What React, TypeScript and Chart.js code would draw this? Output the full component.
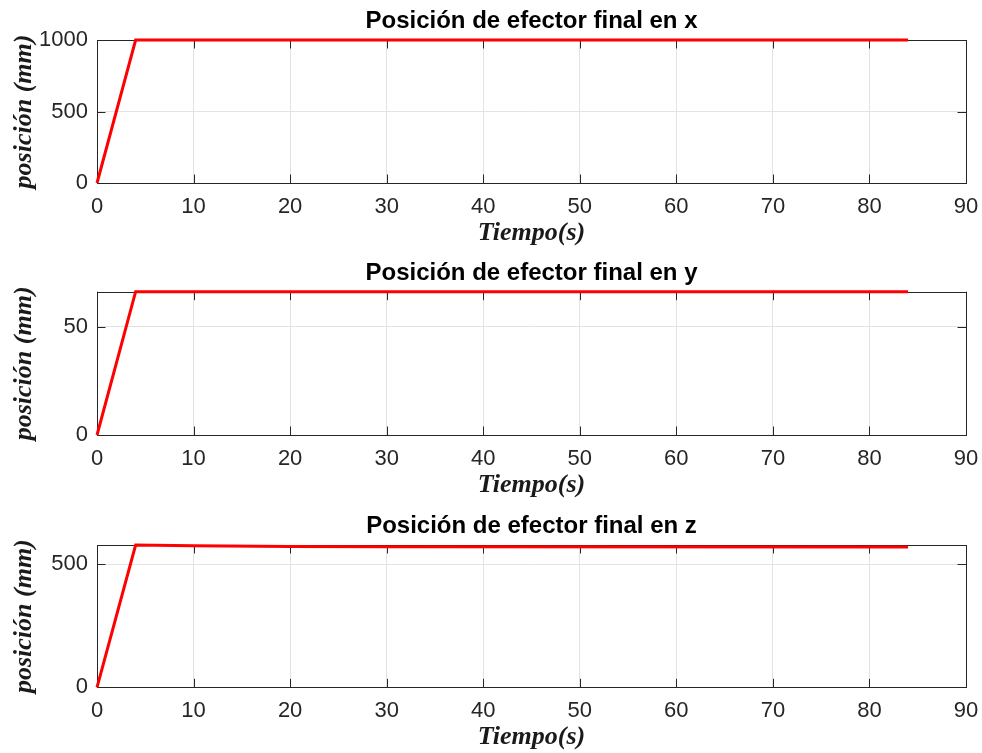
import React, { useEffect, useRef } from "react";
import { Chart, registerables } from "chart.js";

Chart.register(...registerables);

// ---- data ----
const timeX = [0, 4, 84];
const posX = [0, 1000, 1000];

const timeY = [0, 4, 84];
const posY = [0, 66.3, 66.3];

const timeZ = [0, 4, 10, 20, 30, 84];
const posZ = [0, 578, 575, 572, 571, 570];

const titles = [
  "Posición de efector final en x",
  "Posición de efector final en y",
  "Posición de efector final en z",
];
const yTitle = "posición (mm)";
const xTitle = "Tiempo(s)";

const xMin = 0;
const xMax = 90;
const xTickValues = [0, 10, 20, 30, 40, 50, 60, 70, 80, 90];

const yMaxes = [1000, 66.3, 578];
const yTickValues = [
  [0, 500, 1000],
  [0, 50],
  [0, 500],
];

// ---- layout (pixels) ----
const panels = [
  { top: 0, height: 250, chartTop: 40, chartBottom: 183 },
  { top: 250, height: 250, chartTop: 41.7, chartBottom: 185 },
  { top: 500, height: 253, chartTop: 45, chartBottom: 187.3 },
];
const WIDTH = 982;
const AREA_LEFT = 97;
const AREA_RIGHT_PAD = 16;
const TICK_LEN = 8.5;
const X_TITLE_BASELINE = 59;
const DARK = "#262626";
const SANS = "'Liberation Sans', Arial, Helvetica, sans-serif";
const SERIF = "'Liberation Serif', 'Times New Roman', serif";

const boxPlugin = {
  id: "matlabBox",
  beforeDatasetsDraw(chart: any) {
    const { ctx, chartArea } = chart;
    const { left, right, top, bottom } = chartArea;
    const xs = chart.scales.x;
    const ys = chart.scales.y;
    ctx.save();
    ctx.strokeStyle = DARK;
    ctx.lineWidth = 1;
    ctx.beginPath();
    xs.ticks.forEach((t: any) => {
      const px = Math.round(xs.getPixelForValue(t.value)) + 0.5;
      ctx.moveTo(px, bottom);
      ctx.lineTo(px, bottom - TICK_LEN);
      ctx.moveTo(px, top);
      ctx.lineTo(px, top + TICK_LEN);
    });
    ys.ticks.forEach((t: any) => {
      const py = Math.round(ys.getPixelForValue(t.value)) + 0.5;
      ctx.moveTo(left, py);
      ctx.lineTo(left + TICK_LEN, py);
      ctx.moveTo(right, py);
      ctx.lineTo(right - TICK_LEN, py);
    });
    ctx.stroke();
    ctx.strokeRect(
      Math.round(left) + 0.5,
      Math.round(top) + 0.5,
      Math.round(right) - Math.round(left),
      Math.round(bottom) - Math.round(top)
    );
    ctx.restore();
  },
};

function Panel({ idx, times, values }: { idx: number; times: number[]; values: number[] }) {
  const ref = useRef<HTMLCanvasElement | null>(null);
  const p = panels[idx];
  useEffect(() => {
    if (!ref.current) return;
    const titleSize = 24;
    const titleL = titleSize * 1.2;
    const titleCenter = p.chartTop - 10.5 - 0.3465 * titleSize;
    const tPadTop = titleCenter - titleL / 2;
    const tPadBottom = p.chartTop - titleCenter - titleL / 2;

    const axSize = 26;
    const axL = axSize * 1.2;
    const xTitleCenter = p.chartBottom + X_TITLE_BASELINE - 0.3375 * axSize;
    const xPadBottom = p.height - xTitleCenter - axL / 2;
    const xScaleH = p.height - p.chartBottom;

    const chart = new Chart(ref.current, {
      type: "line",
      data: {
        datasets: [
          {
            data: times.map((t, i) => ({ x: t, y: values[i] })),
            borderColor: "#ff0000",
            borderWidth: 3,
            pointRadius: 0,
            tension: 0,
            clip: false as any,
          },
        ],
      },
      plugins: [boxPlugin],
      options: {
        animation: false,
        responsive: false,
        events: [],
        layout: { padding: { left: 0, right: AREA_RIGHT_PAD, top: 0, bottom: 0 } },
        plugins: {
          legend: { display: false },
          tooltip: { enabled: false },
          title: {
            display: true,
            text: titles[idx],
            fullSize: false,
            color: "#000000",
            font: { family: SANS, size: titleSize, weight: "bold", lineHeight: 1.2 },
            padding: { top: tPadTop, bottom: tPadBottom },
          },
        },
        scales: {
          x: {
            type: "linear",
            min: xMin,
            max: xMax,
            afterBuildTicks: (scale: any) => {
              scale.ticks = xTickValues.map((v) => ({ value: v }));
            },
            ticks: {
              color: DARK,
              padding: 10.5,
              autoSkip: false,
              font: { family: SANS, size: 22, lineHeight: 1.2 },
              maxRotation: 0,
              callback: (v: any) => String(v),
            },
            grid: { color: "#e3e3e3", drawTicks: false, lineWidth: 1 },
            border: { display: false },
            title: {
              display: true,
              text: xTitle,
              color: "#1a1a1a",
              font: { family: SERIF, size: axSize, weight: "bold", style: "italic", lineHeight: 1.2 },
              padding: { top: 0, bottom: xPadBottom },
            },
            afterFit: (scale: any) => {
              scale.height = xScaleH;
              scale.paddingLeft = 0;
              scale.paddingRight = 0;
            },
          },
          y: {
            type: "linear",
            min: 0,
            max: yMaxes[idx],
            afterBuildTicks: (scale: any) => {
              scale.ticks = yTickValues[idx].map((v) => ({ value: v }));
            },
            ticks: {
              color: DARK,
              padding: 9,
              autoSkip: false,
              font: { family: SANS, size: 22, lineHeight: 1.2 },
              callback: (v: any) => String(v),
            },
            grid: { color: "#e3e3e3", drawTicks: false, lineWidth: 1 },
            border: { display: false },
            title: {
              display: true,
              text: yTitle,
              color: "#1a1a1a",
              font: { family: SERIF, size: axSize, weight: "bold", style: "italic", lineHeight: 1.2 },
              padding: { top: 24.5 - axL / 2, bottom: 0 },
            },
            afterFit: (scale: any) => {
              scale.width = AREA_LEFT;
            },
          },
        },
      } as any,
    });
    return () => chart.destroy();
  }, [idx, times, values]);

  return (
    <div style={{ position: "absolute", left: 0, top: p.top, width: WIDTH, height: p.height }}>
      <canvas ref={ref} width={WIDTH} height={p.height} style={{ display: "block" }} />
    </div>
  );
}

export default function App() {
  useEffect(() => {
    document.body.style.margin = "0";
  }, []);
  return (
    <div style={{ position: "relative", width: WIDTH, height: 753, background: "#ffffff", overflow: "hidden" }}>
      <Panel idx={0} times={timeX} values={posX} />
      <Panel idx={1} times={timeY} values={posY} />
      <Panel idx={2} times={timeZ} values={posZ} />
    </div>
  );
}
